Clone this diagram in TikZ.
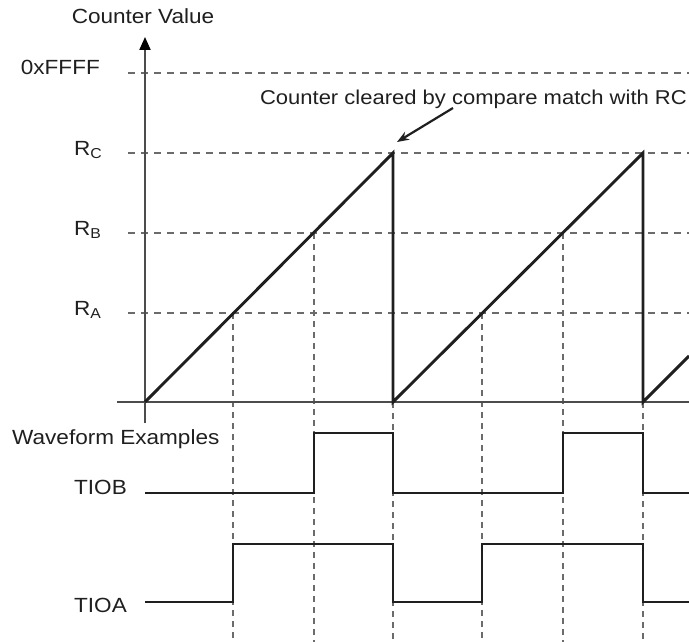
\documentclass[tikz,border=0pt]{standalone}
\usepackage{fontspec}
\setmainfont{Liberation Sans}[FakeStretch=1.1]
\usetikzlibrary{arrows.meta}
\definecolor{txt}{gray}{0.12}
\definecolor{axisgray}{gray}{0.3}
\definecolor{dashgray}{gray}{0.42}
\tikzset{
  lbl/.style={inner sep=0pt, text=txt, font=\fontsize{20.5}{24}\selectfont},
  axisline/.style={draw=axisgray, line width=2pt},
  guideh/.style={draw=dashgray, line width=2pt, dash pattern=on 7pt off 6pt},
  guidev/.style={draw=dashgray, line width=2pt, dash pattern=on 6pt off 5pt},
  ramp/.style={draw=black!88, line width=2.9pt, line join=miter},
  wave/.style={draw=black!88, line width=2.7pt, line join=miter},
  pointer/.style={draw=black!88, line width=2.2pt, -{Stealth[length=12pt,width=9pt]}}
}
\begin{document}
\begin{tikzpicture}[x=1pt,y=-1pt]
\useasboundingbox (0,0) rectangle (689,642);
\clip (0,0) rectangle (689,642);
% key coordinates
\coordinate (O) at (145,402);
\coordinate (ytop) at (145,37);
\coordinate (ybot) at (145,423);
\coordinate (xl) at (117,402);
\coordinate (xr) at (689,402);
% guides horizontal
\foreach \yy/\nm in {73/hF,153/hC,233/hB,313/hA}{
  \coordinate (\nm l) at (128,\yy);
  \coordinate (\nm r) at (689,\yy);
  \draw[guideh] (\nm l) -- (\nm r);
}
% guides vertical
\foreach \xx/\yy/\nm in {233/313/v1,314/233/v2,393/402/v3,482/313/v4,563/233/v5,643/402/v6}{
  \coordinate (\nm t) at (\xx,\yy);
  \coordinate (\nm b) at (\xx,642);
  \draw[guidev] (\nm t) -- (\nm b);
}
% axes
\draw[axisline] (xl) -- (xr);
\draw[axisline, -{Triangle[length=13pt,width=11pt,fill=black,color=black]}] (ybot) -- (ytop);
% ramp
\coordinate (p1) at (393,153);
\coordinate (p2) at (393,402);
\coordinate (p3) at (643,153);
\coordinate (p4) at (643,402);
\coordinate (p5) at (689,356);
\draw[ramp] (O) -- (p1) -- (p2) -- (p3) -- (p4) -- (p5);
% TIOB
\draw[wave] (145,493) -- (314,493) -- (314,433) -- (393,433) -- (393,493)
  -- (563,493) -- (563,433) -- (643,433) -- (643,493) -- (689,493);
% TIOA
\draw[wave] (145,602) -- (233,602) -- (233,544) -- (393,544) -- (393,602)
  -- (482,602) -- (482,544) -- (643,544) -- (643,602) -- (689,602);
% labels
\node[lbl, anchor=base] (cv) at (143,24) {Counter Value};
\node[lbl, anchor=base east] (lF) at (100,75) {0xFFFF};
\node[lbl, anchor=base west] (lC) at (74,155) {R\textsubscript{C}};
\node[lbl, anchor=base west] (lB) at (74,235) {R\textsubscript{B}};
\node[lbl, anchor=base west] (lA) at (74,315) {R\textsubscript{A}};
\node[lbl, anchor=base west] (we) at (12,444) {Waveform Examples};
\node[lbl, anchor=base west] (tb) at (74,494) {TIOB};
\node[lbl, anchor=base west] (ta) at (74,612) {TIOA};
\node[lbl, anchor=base east, font=\fontsize{20}{24}\selectfont] (note) at (687,105) {Counter cleared by compare match with RC};
\coordinate (arrS) at (453,108);
\coordinate (arrE) at (397,142);
\draw[pointer] (arrS) -- (arrE);
\end{tikzpicture}
\end{document}
